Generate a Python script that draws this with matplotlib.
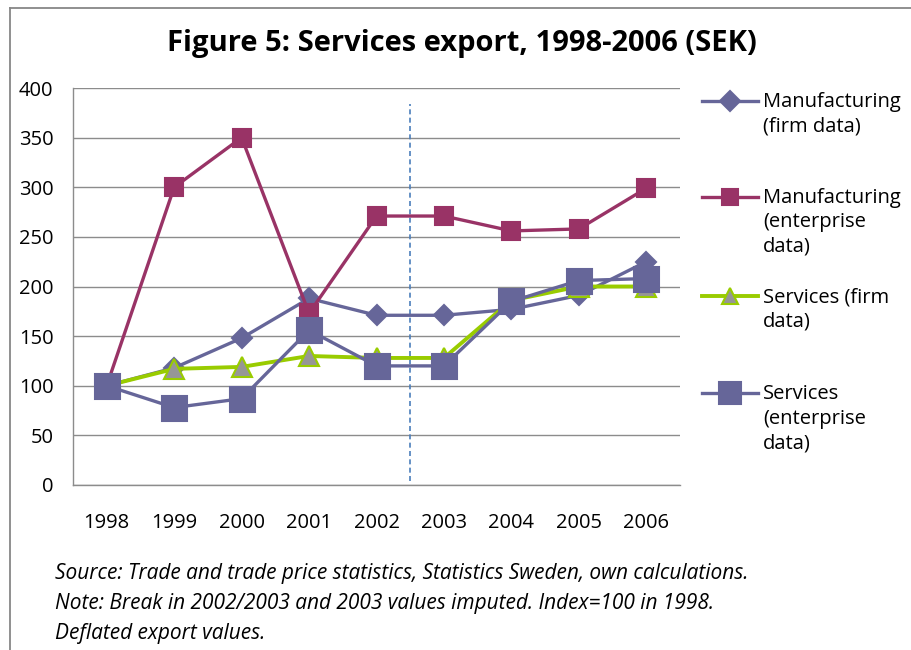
import matplotlib
matplotlib.use("Agg")
import matplotlib.pyplot as plt
from matplotlib.lines import Line2D

plt.rcParams['font.family'] = ['Open Sans', 'DejaVu Sans']

years = ['1998', '1999', '2000', '2001', '2002', '2003', '2004', '2005', '2006']
manuf_firm = [100, 118, 148, 188, 171, 171, 177, 191, 225]
manuf_ent = [100, 300, 350, 173, 271, 271, 256, 258, 299]
serv_firm = [100, 117, 119, 130, 128, 128, 186, 200, 200]
serv_ent = [100, 78, 87, 156, 120, 120, 185, 206, 208]
yticks = [0, 50, 100, 150, 200, 250, 300, 350, 400]
break_pos = 4.5

title = "Figure 5: Services export, 1998-2006 (SEK)"
caption = ["Source: Trade and trade price statistics, Statistics Sweden, own calculations.",
           "Note: Break in 2002/2003 and 2003 values imputed. Index=100 in 1998.",
           "Deflated export values."]

W, H = 911, 650
fig = plt.figure(figsize=(W / 100, H / 100), dpi=100)
ax = fig.add_axes([73 / W, 1 - 485 / H, (680 - 73) / W, (485 - 88) / H])

x = list(range(len(years)))
c_blue = '#666699'
c_maroon = '#993366'
c_green = '#99cc00'
c_gray = '#969696'

styles = [
    dict(data=manuf_firm, color=c_blue, marker='D', ms=10, mfc=c_blue, mec=c_blue, lw=2.4),
    dict(data=manuf_ent, color=c_maroon, marker='s', ms=13, mfc=c_maroon, mec=c_maroon, lw=2.4),
    dict(data=serv_firm, color=c_green, marker='^', ms=14, mfc=c_gray, mec=c_green, lw=2.8),
    dict(data=serv_ent, color=c_blue, marker='s', ms=18, mfc=c_blue, mec=c_blue, lw=2.4),
]
for i, s in enumerate(styles):
    ax.plot(x, s['data'], color=s['color'], lw=s['lw'], marker=s['marker'],
            ms=s['ms'], mfc=s['mfc'], mec=s['mec'], mew=1.5, zorder=3 + i,
            clip_on=False)

ax.plot([break_pos, break_pos], [4, 384], color='#4a7ebb', lw=1.2,
        ls=(0, (3, 2)), zorder=2)

ax.set_xlim(-0.5, len(years) - 0.5)
ax.set_ylim(0, 400)
ax.set_yticks(yticks)
ax.set_xticks(x)
ax.set_xticklabels(years)
ax.tick_params(axis='both', length=0, labelsize=14.5, colors='black')
ax.tick_params(axis='y', pad=14)
ax.tick_params(axis='x', pad=20)
ax.grid(axis='y', color='#8c8c8c', lw=1.0, zorder=0)
ax.set_axisbelow(True)
for sp in ['top', 'right']:
    ax.spines[sp].set_visible(False)
for sp in ['left', 'bottom']:
    ax.spines[sp].set_color('#8c8c8c')
    ax.spines[sp].set_linewidth(1.0)

# Title
fig.text(462 / W, 1 - 43 / H, title, ha='center', va='center',
         fontsize=21, fontweight='bold')

# Legend (manual placement)
labels = ["Manufacturing\n(firm data)",
          "Manufacturing\n(enterprise\ndata)",
          "Services (firm\ndata)",
          "Services\n(enterprise\ndata)"]
leg_y = [101, 197, 296, 393]
for s, lab, yy in zip(styles, labels, leg_y):
    yf = 1 - yy / H
    fig.add_artist(Line2D([702 / W, 758 / W], [yf, yf], color=s['color'],
                          lw=s['lw'], transform=fig.transFigure))
    fig.add_artist(Line2D([730 / W], [yf], marker=s['marker'],
                          ms=s['ms'] * (0.85 if s['marker'] != 'D' else 1.0),
                          mfc=s['mfc'], mec=s['mec'], mew=1.5, ls='none',
                          transform=fig.transFigure))
    fig.text(763 / W, yf + 9 / H, lab, ha='left', va='top', fontsize=14.5,
             linespacing=1.3)

# Caption
cap_y = [573, 604, 634]
for line, yy in zip(caption, cap_y):
    fig.text(55 / W, 1 - yy / H, line, ha='left', va='center', fontsize=15,
             style='italic')

# Border
bc = '#878787'
fig.add_artist(Line2D([10 / W, 10 / W], [0, 1 - 8 / H], color=bc, lw=1.3,
                      transform=fig.transFigure))
fig.add_artist(Line2D([10 / W, 1], [1 - 8 / H, 1 - 8 / H], color=bc, lw=1.3,
                      transform=fig.transFigure))

fig.savefig('out.png', dpi=100)
